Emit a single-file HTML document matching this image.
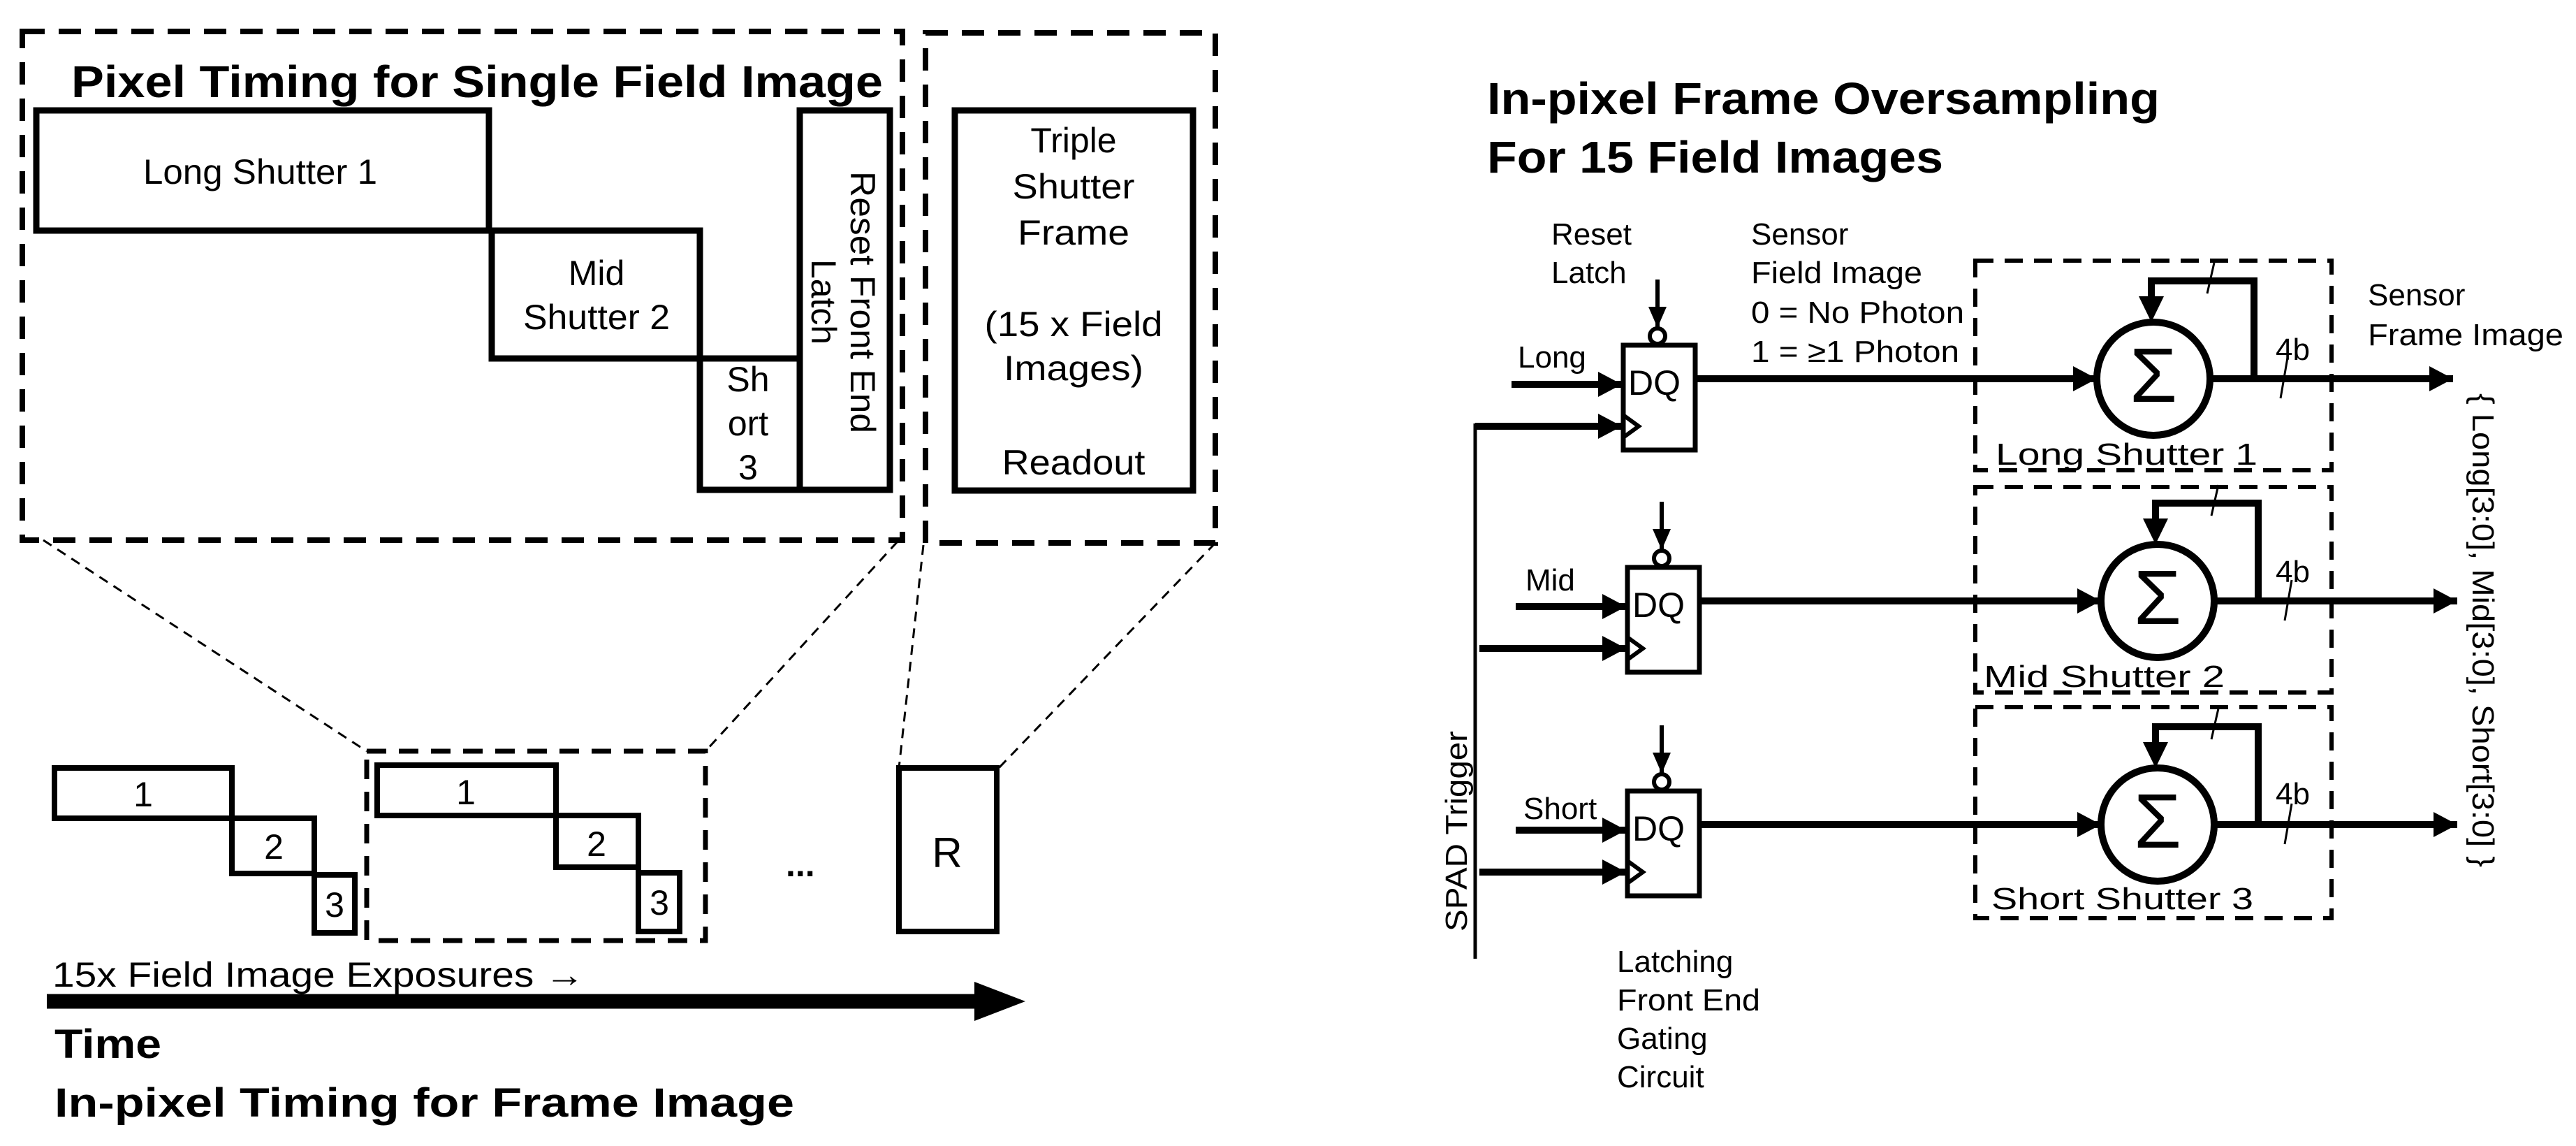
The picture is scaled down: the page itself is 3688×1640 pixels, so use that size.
<!DOCTYPE html>
<html><head><meta charset="utf-8"><style>
html,body{margin:0;padding:0;background:#fff;}
svg{display:block;}
text{font-family:"Liberation Sans",sans-serif;fill:#000;}
.b{font-weight:bold;}
</style></head><body>
<svg width="3688" height="1640" viewBox="0 0 3688 1640" xmlns="http://www.w3.org/2000/svg">
<defs>
<marker id="ah" markerWidth="34" markerHeight="36" refX="34" refY="18" orient="auto" markerUnits="userSpaceOnUse">
<path d="M0,0 L34,18 L0,36 z" fill="#000"/></marker>
<marker id="ahs" markerWidth="30" markerHeight="26" refX="30" refY="13" orient="auto" markerUnits="userSpaceOnUse">
<path d="M0,0 L30,13 L0,26 z" fill="#000"/></marker>
</defs>
<g fill="none" stroke="#000">
<rect x="32" y="45" width="1260" height="728" stroke-width="8" stroke-dasharray="32,20"/>
<rect x="1325" y="47" width="415" height="730" stroke-width="8" stroke-dasharray="32,20"/>
<g stroke-width="9">
<rect x="52" y="158" width="648" height="172"/>
<rect x="704" y="330" width="298" height="183"/>
<rect x="1002" y="513" width="143" height="188"/>
<rect x="1145" y="158" width="129" height="543"/>
<rect x="1367" y="158" width="341" height="544"/>
</g>
<g stroke-width="3" stroke-dasharray="14,10">
<line x1="62" y1="773" x2="525" y2="1075"/>
<line x1="1285" y1="775" x2="1010" y2="1075"/>
<line x1="1322" y1="780" x2="1287" y2="1099"/>
<line x1="1740" y1="777" x2="1430" y2="1099"/>
</g>
<g stroke-width="8">
<rect x="78" y="1099" width="254" height="72"/>
<rect x="332" y="1171" width="118" height="79"/>
<rect x="450" y="1252" width="58" height="83"/>
<rect x="540" y="1095" width="256" height="72"/>
<rect x="796" y="1167" width="118" height="74"/>
<rect x="914" y="1249" width="59" height="84"/>
<rect x="1287" y="1099" width="140" height="234"/>
</g>
<rect x="525" y="1075" width="485" height="271" stroke-width="7" stroke-dasharray="28,18"/>
<line x1="67" y1="1433" x2="1400" y2="1433" stroke-width="21"/>
</g>
<path d="M1395,1405 L1468,1433 L1395,1461 z" fill="#000"/>

<text x="102" y="139" font-size="64" class="b" textLength="1162" lengthAdjust="spacingAndGlyphs">Pixel Timing for Single Field Image</text>
<text x="205" y="263" font-size="50" textLength="335" lengthAdjust="spacingAndGlyphs">Long Shutter 1</text>
<g font-size="50" text-anchor="middle">
<text x="854" y="408">Mid</text>
<text x="854" y="471" textLength="210" lengthAdjust="spacingAndGlyphs">Shutter 2</text>
<text x="1071" y="560">Sh</text>
<text x="1071" y="623">ort</text>
<text x="1071" y="686">3</text>
<text x="1537" y="218">Triple</text>
<text x="1537" y="284" textLength="175" lengthAdjust="spacingAndGlyphs">Shutter</text>
<text x="1537" y="350" textLength="160" lengthAdjust="spacingAndGlyphs">Frame</text>
<text x="1537" y="481" textLength="255" lengthAdjust="spacingAndGlyphs">(15 x Field</text>
<text x="1537" y="544" textLength="200" lengthAdjust="spacingAndGlyphs">Images)</text>
<text x="1537" y="679" textLength="205" lengthAdjust="spacingAndGlyphs">Readout</text>
</g>
<text transform="translate(1218,245) rotate(90)" font-size="50" textLength="375" lengthAdjust="spacingAndGlyphs">Reset Front End</text>
<text transform="translate(1162,432) rotate(90)" font-size="50" text-anchor="middle" textLength="122" lengthAdjust="spacingAndGlyphs">Latch</text>
<g font-size="50" text-anchor="middle">
<text x="205" y="1154">1</text>
<text x="392" y="1229">2</text>
<text x="479" y="1312">3</text>
<text x="667" y="1151">1</text>
<text x="854" y="1225">2</text>
<text x="944" y="1309">3</text>
<text x="1356" y="1241" font-size="60">R</text>
</g>
<text x="1125" y="1254" font-size="50" class="b">...</text>
<text x="75" y="1412" font-size="50" textLength="762" lengthAdjust="spacingAndGlyphs">15x Field Image Exposures →</text>
<text x="78" y="1514" font-size="58" class="b" textLength="153" lengthAdjust="spacingAndGlyphs">Time</text>
<text x="78" y="1598" font-size="58" class="b" textLength="1059" lengthAdjust="spacingAndGlyphs">In-pixel Timing for Frame Image</text>

<text x="2129" y="163" font-size="64" class="b" textLength="963" lengthAdjust="spacingAndGlyphs">In-pixel Frame Oversampling</text>
<text x="2129" y="247" font-size="64" class="b" textLength="653" lengthAdjust="spacingAndGlyphs">For 15 Field Images</text>
<g font-size="44">
<text x="2221" y="350">Reset</text>
<text x="2221" y="405">Latch</text>
<text x="2507" y="350">Sensor</text>
<text x="2507" y="405" textLength="245" lengthAdjust="spacingAndGlyphs">Field Image</text>
<text x="2507" y="462" textLength="305" lengthAdjust="spacingAndGlyphs">0 = No Photon</text>
<text x="2507" y="518" textLength="298" lengthAdjust="spacingAndGlyphs">1 = ≥1 Photon</text>
<text x="3390" y="437">Sensor</text>
<text x="3390" y="494" textLength="280" lengthAdjust="spacingAndGlyphs">Frame Image</text>
<text x="2173" y="526">Long</text>
<text x="2184" y="845">Mid</text>
<text x="2181" y="1172">Short</text>
<text x="2857" y="665" textLength="375" lengthAdjust="spacingAndGlyphs">Long Shutter 1</text>
<text x="2840" y="983" textLength="345" lengthAdjust="spacingAndGlyphs">Mid Shutter 2</text>
<text x="2851" y="1301" textLength="375" lengthAdjust="spacingAndGlyphs">Short Shutter 3</text>
<text x="3258" y="515">4b</text>
<text x="3258" y="833">4b</text>
<text x="3258" y="1151">4b</text>
<text x="2315" y="1391">Latching</text>
<text x="2315" y="1446" textLength="205" lengthAdjust="spacingAndGlyphs">Front End</text>
<text x="2315" y="1501">Gating</text>
<text x="2315" y="1556">Circuit</text>
</g>
<text transform="translate(3540,563) rotate(90)" font-size="44" textLength="678" lengthAdjust="spacingAndGlyphs">{ Long[3:0], Mid[3:0], Short[3:0] }</text>
<text transform="translate(2100,1333) rotate(-90)" font-size="44" textLength="287" lengthAdjust="spacingAndGlyphs">SPAD Trigger</text>

<g fill="none" stroke="#000">
<rect x="2828" y="373" width="510" height="300" stroke-width="6" stroke-dasharray="26,16"/>
<rect x="2828" y="697" width="510" height="294" stroke-width="6" stroke-dasharray="26,16"/>
<rect x="2828" y="1012" width="510" height="302" stroke-width="6" stroke-dasharray="26,16"/>
<line x1="2112" y1="606" x2="2112" y2="1372" stroke-width="5"/>
</g>

<g id="row">
<g fill="none" stroke="#000">
<rect x="2324" y="494" width="103" height="150" stroke-width="7"/>
<polyline points="2324,594 2346,610 2324,626" stroke-width="6"/>
<circle cx="2373" cy="481" r="11" stroke-width="6"/>
<line x1="2373" y1="400" x2="2373" y2="469" stroke-width="6" marker-end="url(#ahs)"/>
<line x1="2164" y1="550" x2="2322" y2="550" stroke-width="10" marker-end="url(#ah)"/>
<line x1="2112" y1="610" x2="2322" y2="610" stroke-width="10" marker-end="url(#ah)"/>
<line x1="2427" y1="542" x2="3002" y2="542" stroke-width="10" marker-end="url(#ah)"/>
<circle cx="3083" cy="542" r="81" stroke-width="10"/>
<line x1="3164" y1="542" x2="3512" y2="542" stroke-width="10" marker-end="url(#ah)"/>
<polyline points="3227,542 3227,402 3080,402 3080,428" stroke-width="10"/>
<line x1="3170" y1="376" x2="3160" y2="420" stroke-width="3"/>
<line x1="3275" y1="512" x2="3265" y2="570" stroke-width="3"/>
</g>
<path d="M3080,461 L3062,424 L3098,424 z" fill="#000"/>
<text x="3083" y="575" font-size="110" text-anchor="middle">Σ</text>
<text x="2331" y="565" font-size="50">DQ</text>
</g>
<use href="#row" transform="translate(6,318)"/>
<use href="#row" transform="translate(6,638)"/>
</svg>
</body></html>
